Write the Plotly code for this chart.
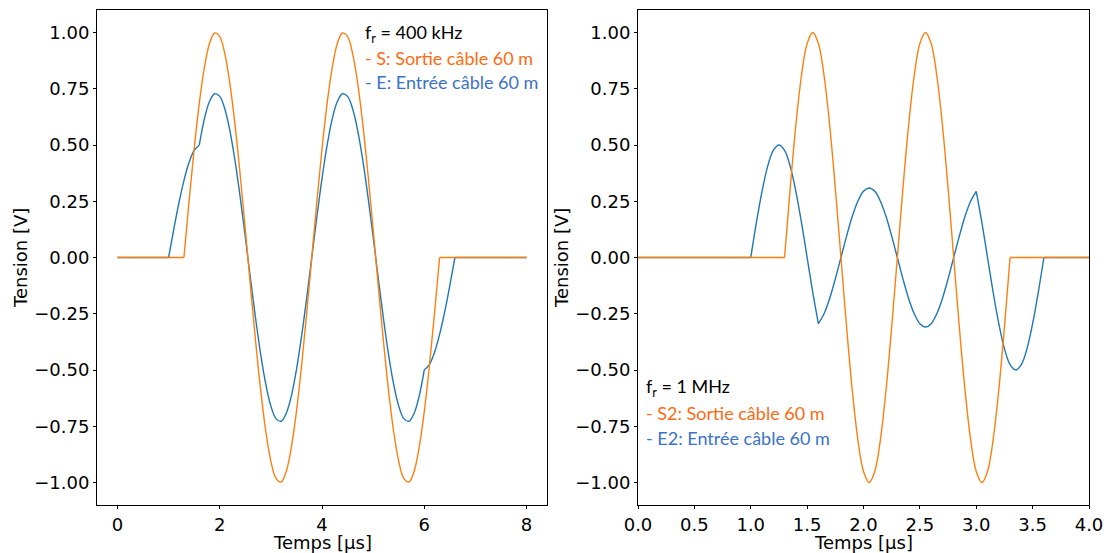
import plotly.graph_objects as go
from plotly.subplots import make_subplots

# ---------------- data: left panel (f_r = 400 kHz) ----------------
T_S_LEFT = [0.0, 1.3, 1.4, 1.5, 1.6, 1.7, 1.8, 1.9, 2.0, 2.1, 2.2, 2.3, 2.4, 2.5, 2.6, 2.7, 2.8,
            2.9, 3.0, 3.1, 3.2, 3.3, 3.4, 3.5, 3.6, 3.7, 3.8, 3.9, 4.0, 4.1, 4.2, 4.3, 4.4, 4.5,
            4.6, 4.7, 4.8, 4.9, 5.0, 5.1, 5.2, 5.3, 5.4, 5.5, 5.6, 5.7, 5.8, 5.9, 6.0, 6.1, 6.2,
            6.3, 8.0]
S_LEFT = [0, 0, 0.249, 0.482, 0.685, 0.844, 0.951, 0.998, 0.982, 0.905, 0.771, 0.588, 0.368,
          0.125, -0.125, -0.368, -0.588, -0.771, -0.905, -0.982, -0.998, -0.951, -0.844, -0.685,
          -0.482, -0.249, 0, 0.249, 0.482, 0.685, 0.844, 0.951, 0.998, 0.982, 0.905, 0.771,
          0.588, 0.368, 0.125, -0.125, -0.368, -0.588, -0.771, -0.905, -0.982, -0.998, -0.951,
          -0.844, -0.685, -0.482, -0.249, 0, 0]
S_LEFT_BREAKS = [1.3, 6.3]

T_E_LEFT = [0.0, 1.0, 1.1, 1.2, 1.3, 1.4, 1.5, 1.6, 1.7, 1.8, 1.9, 2.0, 2.1, 2.2, 2.3, 2.4, 2.5,
            2.6, 2.7, 2.8, 2.9, 3.0, 3.1, 3.2, 3.3, 3.4, 3.5, 3.6, 3.7, 3.8, 3.9, 4.0, 4.1, 4.2,
            4.3, 4.4, 4.5, 4.6, 4.7, 4.8, 4.9, 5.0, 5.1, 5.2, 5.3, 5.4, 5.5, 5.6, 5.7, 5.8, 5.9,
            6.0, 6.1, 6.2, 6.3, 6.4, 6.5, 6.6, 8.0]
E_LEFT = [0, 0, 0.124, 0.241, 0.342, 0.422, 0.476, 0.499,
          0.616, 0.693, 0.728, 0.716, 0.660, 0.562, 0.429, 0.268, 0.091, -0.091, -0.268,
          -0.429, -0.562, -0.660, -0.716, -0.728, -0.693, -0.616, -0.499, -0.351, -0.181, 0,
          0.181, 0.351, 0.499, 0.616, 0.693, 0.728, 0.716, 0.660, 0.562, 0.429, 0.268, 0.091,
          -0.091, -0.268, -0.429, -0.562, -0.660, -0.716, -0.728, -0.693, -0.616, -0.499,
          -0.476, -0.422, -0.342, -0.241, -0.124, 0, 0]
E_LEFT_BREAKS = [1.0, 1.6, 6.0, 6.6]

# ---------------- data: right panel (f_r = 1 MHz) ----------------
T_S_RIGHT = [0.0, 1.3, 1.35, 1.4, 1.45, 1.5, 1.55, 1.6, 1.65, 1.7, 1.75, 1.8, 1.85, 1.9, 1.95,
             2.0, 2.05, 2.1, 2.15, 2.2, 2.25, 2.3, 2.35, 2.4, 2.45, 2.5, 2.55, 2.6, 2.65, 2.7,
             2.75, 2.8, 2.85, 2.9, 2.95, 3.0, 3.05, 3.1, 3.15, 3.2, 3.25, 3.3, 4.0]
S_RIGHT = [0, 0, 0.309, 0.588, 0.809, 0.951, 1, 0.951, 0.809, 0.588, 0.309, 0, -0.309, -0.588,
           -0.809, -0.951, -1, -0.951, -0.809, -0.588, -0.309, 0, 0.309, 0.588, 0.809, 0.951,
           1, 0.951, 0.809, 0.588, 0.309, 0, -0.309, -0.588, -0.809, -0.951, -1, -0.951,
           -0.809, -0.588, -0.309, 0, 0]
S_RIGHT_BREAKS = [1.3, 3.3]

T_E_RIGHT = [0.0, 1.0, 1.05, 1.1, 1.15, 1.2, 1.25, 1.3, 1.35, 1.4, 1.45, 1.5, 1.55, 1.6, 1.65,
             1.7, 1.75, 1.8, 1.85, 1.9, 1.95, 2.0, 2.05, 2.1, 2.15, 2.2, 2.25, 2.3, 2.35, 2.4,
             2.45, 2.5, 2.55, 2.6, 2.65, 2.7, 2.75, 2.8, 2.85, 2.9, 2.95, 3.0, 3.05, 3.1, 3.15,
             3.2, 3.25, 3.3, 3.35, 3.4, 3.45, 3.5, 3.55, 3.6, 4.0]
E_RIGHT = [0, 0, 0.155, 0.294, 0.405, 0.476, 0.5, 0.476, 0.405, 0.294, 0.155, 0, -0.155, -0.294,
           -0.250, -0.182, -0.095, 0, 0.095, 0.182, 0.250, 0.294, 0.309, 0.294, 0.250, 0.182,
           0.095, 0, -0.095, -0.182, -0.250, -0.294, -0.309, -0.294, -0.250, -0.182, -0.095, 0,
           0.095, 0.182, 0.250, 0.294,
           0.155, 0, -0.155, -0.294, -0.405, -0.476, -0.5, -0.476, -0.405, -0.294, -0.155, 0, 0]
E_RIGHT_BREAKS = [1.0, 1.6, 3.0, 3.6]

Y_TICKS = [-1.0, -0.75, -0.5, -0.25, 0.0, 0.25, 0.5, 0.75, 1.0]
X_TICKS_LEFT = [0, 2, 4, 6, 8]
X_TICKS_RIGHT = [0.0, 0.5, 1.0, 1.5, 2.0, 2.5, 3.0, 3.5, 4.0]
X_TITLE = "Temps [µs]"
Y_TITLE = "Tension [V]"

BLUE = "#1f77b4"
ORANGE = "#ff7f0e"
TXT_ORANGE = "#ff6a10"
TXT_BLUE = "#3a72c8"

W, H = 1109, 553
fig = make_subplots(rows=1, cols=2)


def add_curve(t, y, breaks, color, col):
    idx = [i for i, tv in enumerate(t) if round(tv, 3) in [round(b, 3) for b in breaks]]
    bounds = [0] + idx + [len(t) - 1]
    for a, b in zip(bounds[:-1], bounds[1:]):
        if b <= a:
            continue
        fig.add_trace(go.Scatter(
            x=t[a:b + 1], y=y[a:b + 1], mode="lines",
            line=dict(color=color, width=1.4, shape="spline" if b - a > 1 else "linear",
                      smoothing=1.0),
            showlegend=False, hoverinfo="skip"), row=1, col=col)


add_curve(T_E_LEFT, E_LEFT, E_LEFT_BREAKS, BLUE, 1)
add_curve(T_S_LEFT, S_LEFT, S_LEFT_BREAKS, ORANGE, 1)
add_curve(T_E_RIGHT, E_RIGHT, E_RIGHT_BREAKS, BLUE, 2)
add_curve(T_S_RIGHT, S_RIGHT, S_RIGHT_BREAKS, ORANGE, 2)

tick_font = dict(family="DejaVu Sans", size=18, color="black")
axis_common = dict(showline=True, linecolor="black", linewidth=1, mirror=True,
                   ticks="outside", ticklen=3, tickwidth=1, tickcolor="black",
                   showgrid=False, zeroline=False, tickfont=tick_font, automargin=False)

y_dom = [1 - 505 / H, 1 - 10 / H]
fig.update_layout(
    width=W, height=H, margin=dict(l=0, r=0, t=0, b=0, autoexpand=False),
    plot_bgcolor="white", paper_bgcolor="white",
    font=dict(family="DejaVu Sans", size=18, color="black"),
    xaxis=dict(domain=[97 / W, 547 / W], range=[-0.4, 8.4], tickvals=X_TICKS_LEFT,
               ticktext=[str(v) for v in X_TICKS_LEFT], **axis_common),
    xaxis2=dict(domain=[638 / W, 1089 / W], range=[0, 4], tickvals=X_TICKS_RIGHT,
                ticktext=[f"{v:.1f}" for v in X_TICKS_RIGHT], **axis_common),
    yaxis=dict(domain=y_dom, range=[-1.1, 1.1], tickvals=Y_TICKS,
               ticktext=[f"{v:.2f}".replace("-", "\u2212") for v in Y_TICKS], **axis_common),
    yaxis2=dict(domain=y_dom, range=[-1.1, 1.1], tickvals=Y_TICKS,
                ticktext=[f"{v:.2f}".replace("-", "\u2212") for v in Y_TICKS], **axis_common),
)

# axis titles placed as text at the reference positions
for xc in [(97 + 547) / 2, (638 + 1089) / 2]:
    fig.add_annotation(x=xc / W, y=1 - 542 / H, xref="paper", yref="paper", text=X_TITLE,
                       showarrow=False, xanchor="center", yanchor="middle",
                       font=tick_font)
for xc in [20, 561]:
    fig.add_annotation(x=xc / W, y=1 - 258 / H, xref="paper", yref="paper", text=Y_TITLE,
                       showarrow=False, xanchor="center", yanchor="middle", textangle=-90,
                       font=tick_font)

ann_font = "Lato"
ANN_LEFT = [("f<sub>r</sub> = 400 kHz", "black"),
            ("- S: Sortie câble 60 m", TXT_ORANGE),
            ("- E: Entrée câble 60 m", TXT_BLUE)]
ANN_RIGHT = [("f<sub>r</sub> = 1 MHz", "black"),
             ("- S2: Sortie câble 60 m", TXT_ORANGE),
             ("- E2: Entrée câble 60 m", TXT_BLUE)]
for (txt, c), yy in zip(ANN_LEFT, [33, 58, 82]):
    fig.add_annotation(x=363 / W, y=1 - yy / H, xref="paper", yref="paper", text=txt,
                       showarrow=False, xanchor="left", yanchor="middle",
                       font=dict(family=ann_font, size=18, color=c))
for (txt, c), yy in zip(ANN_RIGHT, [388, 413, 438]):
    fig.add_annotation(x=644 / W, y=1 - yy / H, xref="paper", yref="paper", text=txt,
                       showarrow=False, xanchor="left", yanchor="middle",
                       font=dict(family=ann_font, size=18, color=c))

fig.write_html("out.html", config={"displayModeBar": False, "staticPlot": True})

# remove the browser's default page margin so the figure sits at the window origin
with open("out.html", "r", encoding="utf-8") as f:
    html = f.read()
html = html.replace("<body>", '<body style="margin:0;padding:0;overflow:hidden">', 1)
with open("out.html", "w", encoding="utf-8") as f:
    f.write(html)
